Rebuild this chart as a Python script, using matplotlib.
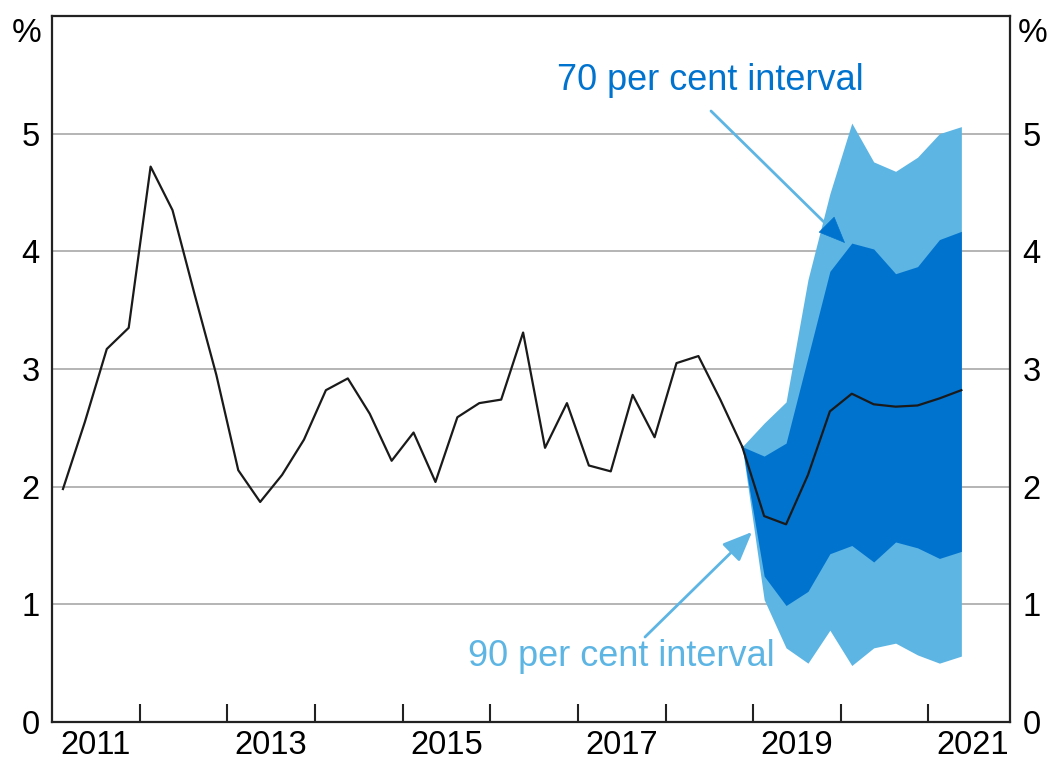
import matplotlib
matplotlib.use("Agg")
import matplotlib.pyplot as plt
import numpy as np

plt.rcParams['font.family'] = ['Liberation Sans', 'DejaVu Sans']

# ---- Data ----
hist_start = 2011.125  # Q1 2011 (mid-quarter)
history = [1.98, 2.55, 3.17, 3.35, 4.72, 4.35, 3.64, 2.95, 2.14, 1.87,
           2.10, 2.40, 2.82, 2.92, 2.62, 2.22, 2.46, 2.04, 2.59, 2.71,
           2.74, 3.31, 2.33, 2.71, 2.18, 2.13, 2.78, 2.42, 3.05, 3.11,
           2.74, 2.34]
# forecast from Q4 2018 to Q2 2021
central = [2.34, 1.75, 1.68, 2.10, 2.64, 2.79, 2.70, 2.68, 2.69, 2.75, 2.82]
upper90 = [2.34, 2.54, 2.72, 3.76, 4.49, 5.09, 4.76, 4.68, 4.80, 5.00, 5.06]
upper70 = [2.34, 2.26, 2.37, 3.10, 3.83, 4.07, 4.02, 3.81, 3.87, 4.10, 4.17]
lower70 = [2.34, 1.24, 0.99, 1.11, 1.43, 1.50, 1.36, 1.53, 1.48, 1.39, 1.45]
lower90 = [2.34, 1.04, 0.63, 0.50, 0.78, 0.48, 0.63, 0.67, 0.57, 0.50, 0.56]
year_labels = ['2011', '2013', '2015', '2017', '2019', '2021']
y_labels = ['0', '1', '2', '3', '4', '5']

LIGHT = '#5DB5E4'
DARK = '#0073CF'

XMIN, XMAX = 2011.0, 2021.93
L, R, T, B = 52, 1010, 16, 722

x_hist = hist_start + 0.25 * np.arange(len(history))
x_fc = x_hist[-1] + 0.25 * np.arange(len(central))

fig = plt.figure(figsize=(10.49, 7.73), dpi=100)
ax = fig.add_axes([L/1049, 1-B/773, (R-L)/1049, (B-T)/773])

ax.fill_between(x_fc, lower90, upper90, color=LIGHT, lw=0, zorder=2)
ax.fill_between(x_fc, lower70, upper70, color=DARK, lw=0, zorder=3)
ax.plot(x_hist, history, color='#1a1a1a', lw=1.6, zorder=4)
ax.plot(x_fc, central, color='#1a1a1a', lw=1.6, zorder=4)

ax.set_xlim(XMIN, XMAX)
ax.set_ylim(0, 6)

# grid
for yv in range(1, 6):
    ax.axhline(yv, color='#b4b4b4', lw=1.4, zorder=1)

# x ticks: marks at year boundaries, labels mid-year
ax.set_xticks(np.arange(2012, 2022))
ax.set_xticklabels([])
ax.tick_params(axis='x', which='major', direction='in', length=13, width=1.5,
               colors='#222222')
ax.set_xticks([int(y) + 0.5 for y in year_labels], minor=True)
ax.set_xticklabels(year_labels, minor=True, fontsize=23.5)
ax.tick_params(axis='x', which='minor', length=0, pad=6)

ax.set_yticks(range(0, 6))
ax.set_yticklabels(y_labels, fontsize=23.5)
ax.tick_params(axis='y', length=0, pad=9, labelleft=True, labelright=True)

for s in ax.spines.values():
    s.set_linewidth(1.6)
    s.set_color('#222222')

ax.text(-0.011, 0.975, '%', transform=ax.transAxes, ha='right', va='center', fontsize=24)
ax.text(1.008, 0.975, '%', transform=ax.transAxes, ha='left', va='center', fontsize=24)

# annotations
def px2data(px, py):
    xd = XMIN + (px - L) / (R - L) * (XMAX - XMIN)
    yd = (B - py) / (B - T) * 6
    return xd, yd

tx, ty = px2data(710, 80)
ax.text(tx, ty, '70 per cent interval', color=DARK, fontsize=26, ha='center', va='center', zorder=6)
tx, ty = px2data(621, 657)
ax.text(tx, ty, '90 per cent interval', color=LIGHT, fontsize=26, ha='center', va='center', zorder=6)

HEAD = '-|>,head_length=0.9,head_width=0.38'

# arrow 70: light line, dark head
s = px2data(711, 111); e = px2data(845, 243); hs = px2data(827, 225)
ax.annotate('', xy=hs, xytext=s,
            arrowprops=dict(arrowstyle='-', color=LIGHT, lw=2,
                            shrinkA=0, shrinkB=0), zorder=6)
ax.annotate('', xy=e, xytext=hs,
            arrowprops=dict(arrowstyle=HEAD, mutation_scale=20,
                            color=DARK, lw=0.5, shrinkA=0, shrinkB=0), zorder=7)
# arrow 90
s = px2data(645, 637); e = px2data(752, 532)
ax.annotate('', xy=e, xytext=s,
            arrowprops=dict(arrowstyle=HEAD, mutation_scale=20,
                            color=LIGHT, lw=2, shrinkA=0, shrinkB=0), zorder=6)

fig.savefig('out.png', dpi=100)
